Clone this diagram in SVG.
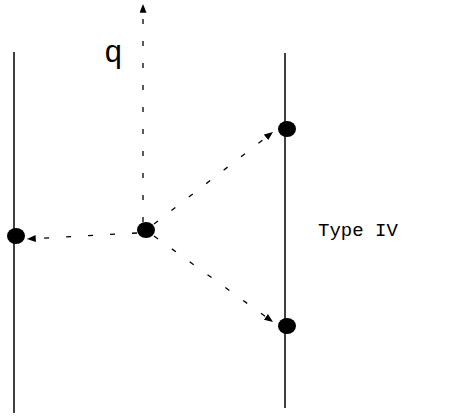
<svg xmlns="http://www.w3.org/2000/svg" width="459" height="416" viewBox="0 0 459 416">
  <style>
    .wall { stroke: #000; stroke-width: 1.5; fill: none; }
    .dot { fill: #000; }
    .conn { stroke: #000; stroke-width: 1.3; fill: none; stroke-dasharray: 5 17; }
    .lbl { font-family: "Liberation Mono", "Courier New", monospace; fill: #000; }
  </style>
  <defs>
    <marker id="ah" viewBox="0 0 10 8" refX="10" refY="4" markerWidth="9" markerHeight="7" markerUnits="userSpaceOnUse" orient="auto">
      <path d="M0,0 L10,4 L0,8 z" fill="#000"/>
    </marker>
  </defs>
  <g id="lines">
    <line class="wall" x1="14" y1="52" x2="14" y2="413" stroke="#333"/>
    <line class="wall" x1="285" y1="53" x2="285" y2="408"/>
  </g>
  <g id="connectors">
    <path class="conn" d="M143,222 L143,4" marker-end="url(#ah)"/>
    <path class="conn" d="M137,233 L27,239" marker-end="url(#ah)"/>
    <path class="conn" d="M154,224 L273,132" marker-end="url(#ah)"/>
    <path class="conn" d="M154,236 L273,322" marker-end="url(#ah)"/>
  </g>
  <g id="node-center"><ellipse class="dot" cx="146" cy="230" rx="9" ry="8"/></g>
  <g id="node-left"><ellipse class="dot" cx="16" cy="236" rx="9" ry="8"/></g>
  <g id="node-top-right"><ellipse class="dot" cx="287" cy="129" rx="9" ry="8"/></g>
  <g id="node-bottom-right"><ellipse class="dot" cx="287" cy="326" rx="9" ry="8"/></g>
  <g id="labels">
    <text class="lbl" x="104" y="62" font-size="31">q</text>
    <text class="lbl" x="318" y="236" font-size="19">Type IV</text>
  </g>
</svg>
